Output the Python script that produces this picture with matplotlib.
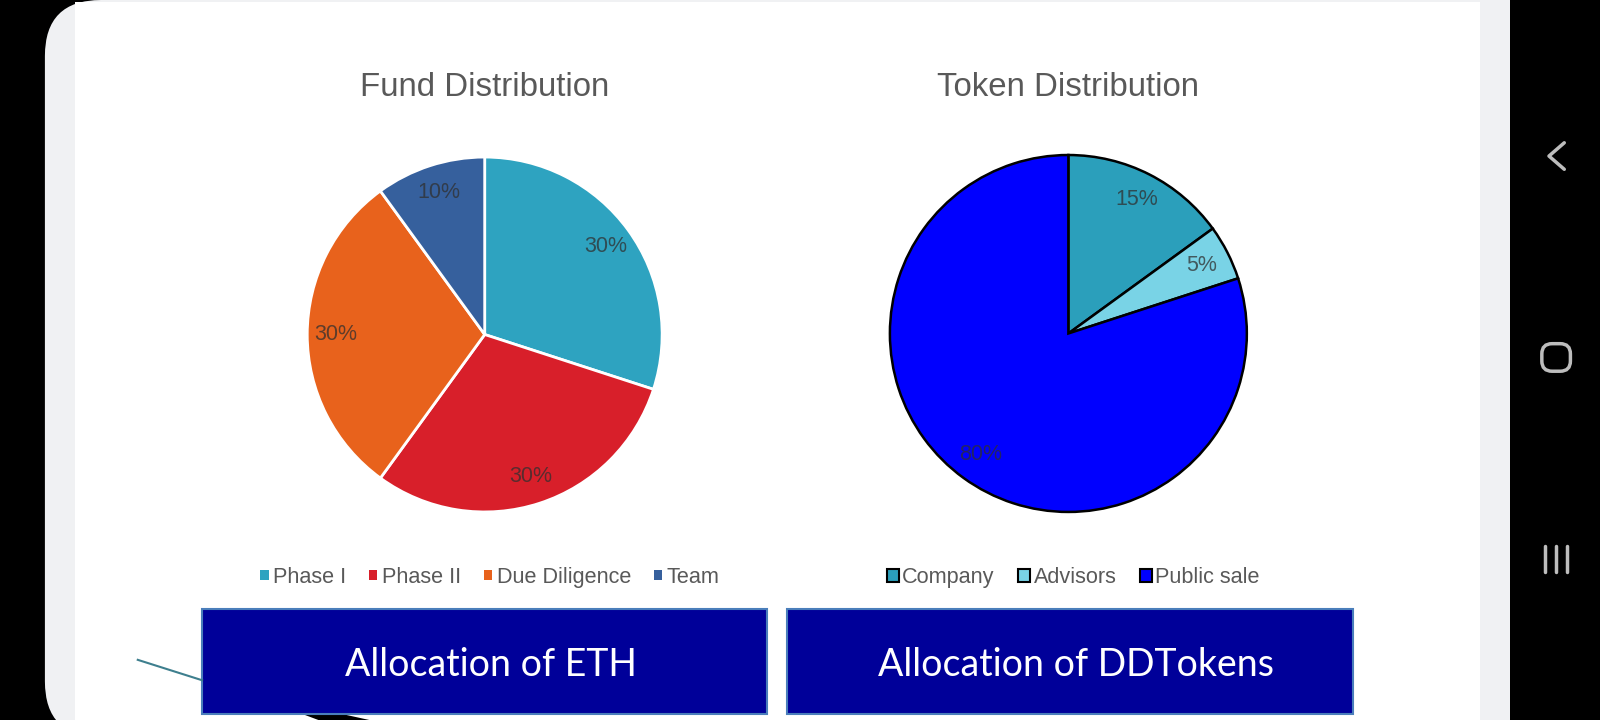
import matplotlib
matplotlib.use('Agg')
import matplotlib.pyplot as plt
from matplotlib.patches import Rectangle, FancyBboxPatch, Patch, Polygon

# reference layout space (pixels of the screenshot)
W, H = 1568, 706

fund_labels = ['Phase I', 'Phase II', 'Due Diligence', 'Team']
fund_values = [30, 30, 30, 10]
fund_colors = ['#2ea3c0', '#d81f2a', '#e8621c', '#36609d']

token_labels = ['Company', 'Advisors', 'Public sale']
token_values = [15, 5, 80]
token_colors = ['#2b9fbb', '#79d3e6', '#0000ff']

titles = ['Fund Distribution', 'Token Distribution']
box_texts = ['Allocation of ETH', 'Allocation of DDTokens']

plt.rcParams['font.family'] = ['Liberation Sans', 'DejaVu Sans']


def rect(x, y, w, h):
    return [x / W, 1 - (y + h) / H, w / W, h / H]


fig = plt.figure(figsize=(16, 7.2), dpi=100)
fig.patch.set_facecolor('black')

bg = fig.add_axes([0, 0, 1, 1])
bg.set_xlim(0, W)
bg.set_ylim(H, 0)
bg.axis('off')

# phone screen
bg.add_patch(FancyBboxPatch((44, 0), 1600, 723, boxstyle='round,pad=0,rounding_size=55',
                            fc='#f0f1f3', ec='none'))
bg.add_patch(Rectangle((73.5, 2), 1450 - 73.5, 720, fc='white', ec='none'))
bg.add_patch(Rectangle((1480, -5), 200, 720, fc='black', ec='none'))

# nav bar icons
nav = '#bdbdbd'
bg.plot([1533, 1518, 1533], [140, 153, 166], color=nav, lw=2.5, solid_capstyle='round')
bg.add_patch(FancyBboxPatch((1511, 337), 28, 27, boxstyle='round,pad=0,rounding_size=10',
                            fc='none', ec=nav, lw=2.5))
for xx in [1514, 1525, 1536]:
    bg.plot([xx, xx], [535, 561], color=nav, lw=2.5, solid_capstyle='round')

# decorative line bits from the slide
bg.plot([135, 198], [647, 667], color='#3e7f8e', lw=1.5)
bg.add_patch(Polygon([(288, 697), (330, 699), (362, 706), (312, 706)], fc='black', ec='none'))

# titles
bg.text(475, 86, titles[0], ha='center', va='center', fontsize=23.8, color='#595959')
bg.text(1047, 86, titles[1], ha='center', va='center', fontsize=23.8, color='#595959')

# pie 1
r1 = 174 * 1.02
ax1 = fig.add_axes(rect(475 - r1, 328 - r1, 2 * r1, 2 * r1))
ax1.pie(fund_values, colors=fund_colors, startangle=90, counterclock=False,
        autopct='%1.0f%%', pctdistance=0.84,
        wedgeprops=dict(edgecolor='white', linewidth=2),
        textprops=dict(color='#303030', fontsize=15.5, alpha=0.75))
ax1.set_xlim(-1.02, 1.02)
ax1.set_ylim(-1.02, 1.02)

# pie 2
r2 = 175 * 1.02
ax2 = fig.add_axes(rect(1047 - r2, 327 - r2, 2 * r2, 2 * r2))
ax2.pie(token_values, colors=token_colors, startangle=90, counterclock=False,
        autopct='%1.0f%%', pctdistance=0.84,
        wedgeprops=dict(edgecolor='black', linewidth=1.8),
        textprops=dict(color='#303030', fontsize=15.5, alpha=0.75))
ax2.set_xlim(-1.02, 1.02)
ax2.set_ylim(-1.02, 1.02)

# legends
h1 = [Patch(fc=c, ec='none', label=l) for c, l in zip(fund_colors, fund_labels)]
fig.legend(handles=h1, loc='center', bbox_to_anchor=(480 / W, 1 - 566 / H), ncol=4,
           frameon=False, fontsize=15.6, handlelength=0.4, handleheight=0.4,
           handletextpad=0.2, columnspacing=1.05, labelcolor='#595959')
h2 = [Patch(fc=c, ec='black', lw=1.5, label=l) for c, l in zip(token_colors, token_labels)]
fig.legend(handles=h2, loc='center', bbox_to_anchor=(1052 / W, 1 - 566 / H), ncol=3,
           frameon=False, fontsize=15.6, handlelength=0.55, handleheight=0.55,
           handletextpad=0.15, columnspacing=1.1, labelcolor='#595959')

# blue boxes
for x0, w, txt in [(198, 554, box_texts[0]), (771, 555, box_texts[1])]:
    bg.add_patch(Rectangle((x0, 597), w, 103, fc='#000099', ec='#4a7ebb', lw=1.5))
    bg.text(x0 + w / 2 + 6, 652, txt, ha='center', va='center', color='white',
            fontsize=27, family=['Lato', 'DejaVu Sans'])

fig.savefig('out.png', dpi=100, facecolor=fig.get_facecolor())
